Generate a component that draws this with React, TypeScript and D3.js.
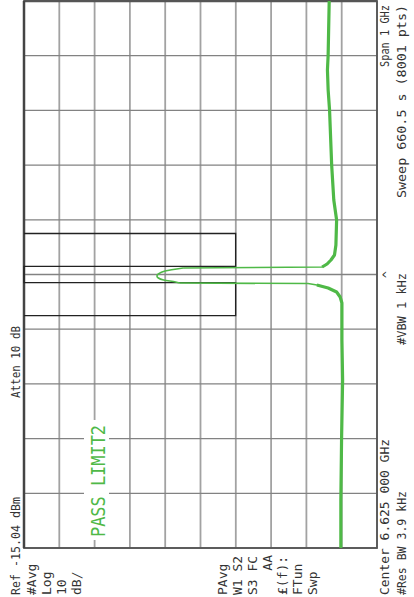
import React from 'react';
import * as d3 from 'd3';

// 画面尺寸（截图是逆时针旋转90°的频谱仪屏幕）
const W = 414;
const H = 597;

// 迹线：频率(GHz) 与 电平(dBm)
const traceFreq = [
  6.125, 6.2128, 6.3224, 6.4321, 6.5052, 6.5729, 6.5839, 6.593, 6.6003, 6.6058, 6.6085,
  6.6094, 6.6113, 6.6149, 6.6186, 6.6223, 6.6259, 6.6314, 6.6369,
  6.6387, 6.6442, 6.6515, 6.6607, 6.679, 6.7246, 6.7612, 6.825, 6.9257, 6.9623, 6.9988, 7.0263, 7.125
];
const traceLevel = [
  -104.8, -104.8, -105.0, -105.3, -105.1, -105.1, -104.6, -103.6, -101.2, -98.0, -95.5,
  -59.2, -58.0, -54.6, -53.1, -52.7, -53.1, -55.0, -60.1,
  -99.5, -100.9, -102.0, -103.0, -103.4, -103.6, -102.8, -102.2, -101.6, -101.2, -101.0, -101.2, -101.5
];

// 限制线（LIMIT2）
const limitFreq = [6.55, 6.55, 6.61, 6.61, 6.64, 6.64, 6.70, 6.70];
const limitLevel = [-15.04, -75, -75, -15.04, -15.04, -75, -75, -15.04];

// 刻度设置
const centerGHz = 6.625;
const spanGHz = 1;
const refLevel = -15.04;
const dbPerDiv = 10;
const divisions = 10;

// 标注文字
const leftInfo = ['#Avg', 'Log', '10', 'dB/'];
const sideInfo = ['PAvg', 'W1  S2', 'S3  FC', '', '£(f):', 'FTun', 'Swp'];

const App: React.FC = () => {
  const fx = d3.scaleLinear()
    .domain([centerGHz - spanGHz / 2, centerGHz + spanGHz / 2])
    .range([49, 596]);
  const fy = d3.scaleLinear()
    .domain([refLevel, refLevel - dbPerDiv * divisions])
    .range([24, 377]);

  const freqTicks = d3.range(divisions + 1).map(i => centerGHz - spanGHz / 2 + (i * spanGHz) / divisions);
  const levelTicks = d3.range(divisions + 1).map(i => refLevel - i * dbPerDiv);

  const trace = traceFreq.map((f, i) => ({ f, a: traceLevel[i] }));
  const limit = limitFreq.map((f, i) => ({ f, a: limitLevel[i] }));

  const line = d3.line<{ f: number; a: number }>()
    .x(d => fx(d.f))
    .y(d => fy(d.a));
  const peakLine = d3.line<{ f: number; a: number }>()
    .curve(d3.curveMonotoneX)
    .x(d => fx(d.f))
    .y(d => fy(d.a));
  const noiseLine = d3.line<{ f: number; a: number }>()
    .defined(d => d.a < -96)
    .x(d => fx(d.f))
    .y(d => fy(d.a));

  const green = '#4fb947';
  const textColor = '#333333';
  const font = "'DejaVu Sans Mono', monospace";

  return (
    <svg width={W} height={H} style={{ position: 'absolute', left: 0, top: 0, background: '#fff' }}>
      <rect width={W} height={H} fill="#ffffff" />
      <g transform={`translate(0,${H}) rotate(-90)`} fontFamily={font} fontSize={13} fill={textColor}>
        {/* 网格 */}
        {levelTicks.map((t, i) => (
          <line key={'a' + i} x1={fx.range()[0]} x2={fx.range()[1]} y1={fy(t)} y2={fy(t)}
            stroke="#a2a2a2" strokeWidth={1.8} />
        ))}
        {freqTicks.map((t, i) => (
          <line key={'f' + i} x1={fx(t)} x2={fx(t)} y1={fy.range()[0]} y2={fy.range()[1]}
            stroke="#828282" strokeWidth={1.3} />
        ))}
        {/* 边框 */}
        <rect x={fx.range()[0]} y={fy.range()[0]} width={fx.range()[1] - fx.range()[0]}
          height={fy.range()[1] - fy.range()[0]} fill="none" stroke="#555" strokeWidth={1.8} />
        <line x1={fx.range()[1]} x2={fx.range()[1]} y1={fy.range()[0]} y2={fy.range()[1]}
          stroke="#555" strokeWidth={2.5} />
        <line x1={fx.range()[0]} x2={fx.range()[1]} y1={fy.range()[0]} y2={fy.range()[0]}
          stroke="#444" strokeWidth={2.5} />

        {/* PASS LIMIT2 */}
        <rect x={57} y={84} width={120} height={25} fill="#ffffff" />
        <text x={60} y={105} fontSize={20} fill={green} textLength={112} lengthAdjust="spacingAndGlyphs">PASS LIMIT2</text>

        {/* 限制线 */}
        <path d={line(limit) || ''} fill="none" stroke="#222" strokeWidth={1.3} />

        {/* 迹线 */}
        <path d={line(trace.slice(0, 12)) || ''} fill="none" stroke={green} strokeWidth={1.6} />
        <path d={peakLine(trace.slice(11, 19)) || ''} fill="none" stroke={green} strokeWidth={1.6} />
        <path d={line(trace.slice(18)) || ''} fill="none" stroke={green} strokeWidth={1.6} />
        <path d={noiseLine(trace) || ''} fill="none" stroke={green} strokeWidth={3.2} strokeLinejoin="round" />

        {/* 顶部标注 */}
        <text x={2} y={20} textLength={98} lengthAdjust="spacingAndGlyphs">Ref -15.04 dBm</text>
        <text x={199} y={20} textLength={72} lengthAdjust="spacingAndGlyphs">Atten 10 dB</text>
        {leftInfo.map((s, i) => (
          <text key={s} x={2} y={36 + i * 15}>{s}</text>
        ))}
        {sideInfo.map((s, i) => (
          <text key={'s' + i} x={2} y={227 + i * 15}>{s}</text>
        ))}
        <text x={42} y={272} textAnchor="end">AA</text>

        {/* 底部标注 */}
        <text x={2} y={389} textLength={156} lengthAdjust="spacingAndGlyphs">Center 6.625 000 GHz</text>
        <text x={2} y={406} textLength={104} lengthAdjust="spacingAndGlyphs">#Res BW 3.9 kHz</text>
        <text x={252} y={406} textLength={72} lengthAdjust="spacingAndGlyphs">#VBW 1 kHz</text>
        <text x={fx(centerGHz)} y={392} textAnchor="middle" fontSize={12}>^</text>
        <text x={530} y={389} textLength={62} lengthAdjust="spacingAndGlyphs">Span 1 GHz</text>
        <text x={399} y={406} textLength={193} lengthAdjust="spacingAndGlyphs">Sweep 660.5 s (8001 pts)</text>
      </g>
    </svg>
  );
};

export default App;
